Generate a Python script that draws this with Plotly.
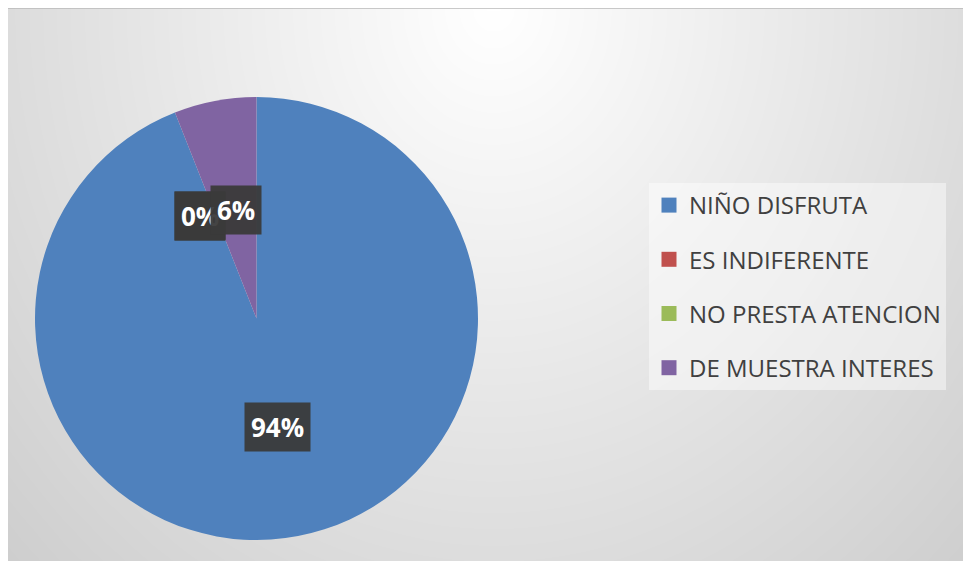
import numpy as np
import plotly.graph_objects as go

# ---- data ----
categories = ["NIÑO DISFRUTA", "ES INDIFERENTE", "NO PRESTA ATENCION", "DE MUESTRA INTERES"]
values = [94, 0, 0, 6]
label_texts = ["94%", "0%", "0%", "6%"]
colors = ["#4F81BD", "#C0504D", "#9BBB59", "#8064A2"]

# ---- geometry (styling) ----
W, H = 971, 561
OFF = 8  # page offset of the figure inside the screenshot
ml, mr, mt, mb = 0, 0, 0, 0
pw, ph = W - ml - mr, H - mt - mb
cx_px, cy_px, R = 256.5 - OFF, 318.5 - OFF, 221.5


def fx(px):
    return (px - ml) / pw


def fy(py):
    return (H - mb - py) / ph


fig = go.Figure()

# background radial gradient (decoration)
n = 80
gx = np.linspace(0, 1, n)
gy = np.linspace(0, 1, n)
XX, YY = np.meshgrid(gx, gy)
d = np.sqrt(((XX - 0.5) / 0.5) ** 2 + ((1 - YY) / 1.0) ** 2)
shade = 255 - 35 * d
fig.add_trace(go.Heatmap(
    x=gx, y=gy, z=shade, zmin=0, zmax=255,
    colorscale=[[0, "rgb(0,0,0)"], [1, "rgb(255,255,255)"]],
    zsmooth="best", showscale=False, hoverinfo="skip",
))

# pie
fig.add_trace(go.Pie(
    labels=categories, values=values, sort=False, direction="clockwise",
    rotation=0, marker=dict(colors=colors, line=dict(width=0)),
    textinfo="none", showlegend=False,
    domain=dict(x=[fx(cx_px - R), fx(cx_px + R)], y=[fy(cy_px + R), fy(cy_px - R)]),
))

# legend entries
for cat, col in zip(categories, colors):
    fig.add_trace(go.Scatter(
        x=[None], y=[None], mode="markers", name=cat, legendgroup=cat,
        marker=dict(symbol="square", size=15, color=col),
    ))

# data labels computed from the values
total = sum(values)
cum = 0.0
annotations = []
for v, t in zip(values, label_texts):
    mid = (cum + v / 2) / total
    cum += v
    ang = np.deg2rad(90 - 360 * mid)
    px = cx_px + 0.5 * R * np.cos(ang)
    py = cy_px - 0.5 * R * np.sin(ang)
    annotations.append(dict(
        x=fx(px), y=fy(py), xref="paper", yref="paper", text=t, showarrow=False,
        xanchor="center", yanchor="middle",
        xshift=-16 if v == 0 else 0,
        font=dict(family="Open Sans", size=26, color="white", weight="bold"),
        bgcolor="rgba(58,58,58,0.95)", borderpad=6,
    ))

fig.update_layout(
    width=W, height=H,
    margin=dict(l=ml, r=mr, t=mt, b=mb),
    paper_bgcolor="white", plot_bgcolor="white",
    xaxis=dict(visible=False, range=[0, 1], fixedrange=True),
    yaxis=dict(visible=False, range=[0, 1], fixedrange=True),
    showlegend=True,
    legend=dict(
        x=fx(649 - OFF), y=fy(183 - OFF), xanchor="left", yanchor="top",
        bgcolor="rgba(255,255,255,0.45)", borderwidth=0,
        font=dict(family="Open Sans", size=24, color="#404040"),
        tracegroupgap=20, itemsizing="trace",
    ),
    annotations=annotations,
    shapes=[dict(type="line", xref="paper", yref="paper", x0=0, x1=1, y0=1, y1=1,
                 line=dict(color="#b8b8b8", width=1.5))],
)

fig.write_html("out.html")
